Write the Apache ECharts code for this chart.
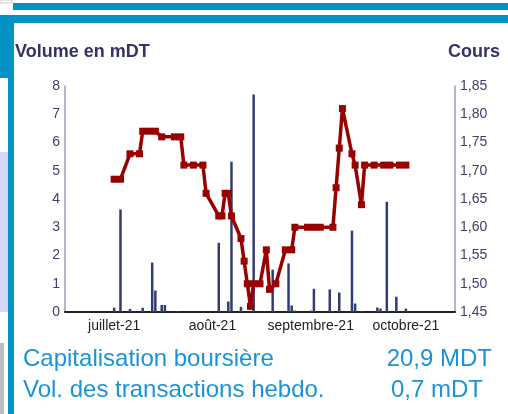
<!DOCTYPE html>
<html>
<head>
<meta charset="utf-8">
<script src="https://cdn.jsdelivr.net/npm/echarts@6/dist/echarts.min.js"></script>
<style>
  html, body { margin: 0; padding: 0; background: #fff; }
  #chart { width: 508px; height: 414px; }
</style>
</head>
<body>
<div id="chart"></div>
<script>
// axis range (calendar days) and month label names
var firstDay = '2021-06-16';
var dayCount = 123;
var monthNames = ['janvier', 'février', 'mars', 'avril', 'mai', 'juin', 'juillet', 'août', 'septembre', 'octobre', 'novembre', 'décembre'];

// volume en mDT (bars)
var volDates = ['2021-07-01', '2021-07-03', '2021-07-06', '2021-07-10', '2021-07-13', '2021-07-14', '2021-07-16', '2021-07-17', '2021-07-21',
    '2021-08-03', '2021-08-06', '2021-08-07', '2021-08-10', '2021-08-14', '2021-08-20', '2021-08-25', '2021-08-26', '2021-08-27',
    '2021-09-01', '2021-09-02', '2021-09-07', '2021-09-08', '2021-09-10', '2021-09-14', '2021-09-15', '2021-09-17', '2021-09-22',
    '2021-09-23', '2021-09-25', '2021-09-28', '2021-10-01'];
var volValues = [0.15, 3.63, 0.11, 0.15, 1.75, 0.76, 0.25, 0.25, 0.03,
    2.45, 0.37, 5.32, 0.18, 7.7, 1.5, 1.72, 0.23, 0.05,
    0.05, 0.82, 0.8, 0.02, 0.69, 2.88, 0.3, 0.03, 0.16,
    0.12, 3.9, 0.54, 0.12];

// cours (line)
var coursDates = ['2021-07-01', '2021-07-03', '2021-07-06', '2021-07-09', '2021-07-10', '2021-07-12', '2021-07-14', '2021-07-16',
    '2021-07-20', '2021-07-22', '2021-07-23', '2021-07-26', '2021-07-29', '2021-07-30', '2021-08-03', '2021-08-04', '2021-08-05',
    '2021-08-06', '2021-08-07', '2021-08-10', '2021-08-11', '2021-08-12', '2021-08-13', '2021-08-14', '2021-08-16', '2021-08-18',
    '2021-08-19', '2021-08-21', '2021-08-24', '2021-08-26', '2021-08-27', '2021-08-31', '2021-09-02', '2021-09-04', '2021-09-08',
    '2021-09-09', '2021-09-10', '2021-09-11', '2021-09-14', '2021-09-15', '2021-09-17', '2021-09-18', '2021-09-21', '2021-09-24',
    '2021-09-26', '2021-09-29', '2021-10-01'];
var coursValues = [1.685, 1.685, 1.73, 1.73, 1.77, 1.77, 1.77, 1.76,
    1.76, 1.76, 1.71, 1.71, 1.71, 1.66, 1.62, 1.62, 1.66,
    1.66, 1.62, 1.58, 1.54, 1.50, 1.46, 1.50, 1.50, 1.56,
    1.49, 1.50, 1.56, 1.56, 1.60, 1.60, 1.60, 1.60, 1.60,
    1.67, 1.74, 1.81, 1.73, 1.71, 1.64, 1.71, 1.71, 1.71,
    1.71, 1.71, 1.71];

var capLabel = 'Capitalisation boursière';
var capValue = '20,9 MDT';
var volLabel = 'Vol. des transactions hebdo.';
var volValue = '0,7 mDT';

// build the day categories
var days = [];
var t0 = Date.parse(firstDay + 'T00:00:00Z');
for (var i = 0; i < dayCount; i++) {
    days.push(new Date(t0 + i * 86400000).toISOString().slice(0, 10));
}
function onDays(dates, values) {
    var out = days.map(function () { return null; });
    dates.forEach(function (d, k) { out[days.indexOf(d)] = values[k]; });
    return out;
}

var blue = '#0093c4';
var font = "'Liberation Sans', Arial, sans-serif";

var chart = echarts.init(document.getElementById('chart'));
var option = {
    animation: false,
    backgroundColor: '#fff',
    grid: { left: 65, right: 53, top: 86, bottom: 102 },
    xAxis: {
        type: 'category',
        data: days,
        axisTick: { show: false },
        axisLine: { lineStyle: { color: '#222', width: 2 } },
        axisLabel: {
            interval: function (idx, val) { return val.slice(8) === '01'; },
            formatter: function (val) {
                return monthNames[parseInt(val.slice(5, 7), 10) - 1] + '-' + val.slice(2, 4);
            },
            color: '#222',
            fontSize: 14,
            fontFamily: font,
            margin: 7,
            hideOverlap: false
        }
    },
    yAxis: [{
        type: 'value',
        min: 0, max: 8, interval: 1,
        splitLine: { show: false },
        axisTick: { show: false },
        axisLine: { show: true, lineStyle: { color: '#9a9cc4', width: 1.5 } },
        axisLabel: { color: '#3c3f6e', fontSize: 14, fontFamily: font, margin: 5 }
    }, {
        type: 'value',
        min: 1.45, max: 1.85, interval: 0.05,
        splitLine: { show: false },
        axisTick: { show: false },
        axisLine: { show: true, lineStyle: { color: '#9a9cc4', width: 1.5 } },
        axisLabel: {
            color: '#3c3f6e', fontSize: 14, fontFamily: font, margin: 5,
            formatter: function (v) { return v.toFixed(2).replace('.', ','); }
        }
    }],
    series: [{
        name: 'Volume',
        type: 'bar',
        yAxisIndex: 0,
        barWidth: 2.5,
        itemStyle: { color: '#333b73' },
        data: onDays(volDates, volValues)
    }, {
        name: 'Cours',
        type: 'line',
        yAxisIndex: 1,
        connectNulls: true,
        symbol: 'rect',
        symbolSize: 7,
        showAllSymbol: true,
        lineStyle: { color: '#990000', width: 3.5 },
        itemStyle: { color: '#990000' },
        data: onDays(coursDates, coursValues)
    }],
    graphic: [
        { type: 'rect', shape: { x: 13, y: 3, width: 495, height: 7 }, style: { fill: blue }, silent: true },
        { type: 'rect', shape: { x: 0, y: 15, width: 508, height: 8 }, style: { fill: blue }, silent: true },
        { type: 'rect', shape: { x: 0, y: 15, width: 14, height: 63 }, style: { fill: blue }, silent: true },
        { type: 'rect', shape: { x: 8, y: 15, width: 6, height: 399 }, style: { fill: blue }, silent: true },
        { type: 'rect', shape: { x: 0, y: 152, width: 8, height: 160 }, style: { fill: '#d3d7f5' }, silent: true },
        { type: 'rect', shape: { x: 0, y: 343, width: 4, height: 71 }, style: { fill: '#bdbdbd' }, silent: true },
        { type: 'rect', shape: { x: 0, y: 0, width: 12, height: 3 }, style: { fill: '#fff', stroke: '#ccc' }, silent: true },
        { type: 'text', x: 15, y: 52, style: { text: 'Volume en mDT', font: 'bold 18px ' + font, fill: '#333366', textVerticalAlign: 'middle' } },
        { type: 'text', x: 500, y: 52, style: { text: 'Cours', font: 'bold 18px ' + font, fill: '#333366', textAlign: 'right', textVerticalAlign: 'middle' } },
        { type: 'text', x: 23, y: 359, style: { text: capLabel, font: '24px ' + font, fill: '#1a93d8', textVerticalAlign: 'middle' } },
        { type: 'text', x: 492, y: 359, style: { text: capValue, font: '24px ' + font, fill: '#1a93d8', textAlign: 'right', textVerticalAlign: 'middle' } },
        { type: 'text', x: 23, y: 390, style: { text: volLabel, font: '24px ' + font, fill: '#1a93d8', textVerticalAlign: 'middle' } },
        { type: 'text', x: 483, y: 390, style: { text: volValue, font: '24px ' + font, fill: '#1a93d8', textAlign: 'right', textVerticalAlign: 'middle' } }
    ]
};
chart.setOption(option);
</script>
</body>
</html>
